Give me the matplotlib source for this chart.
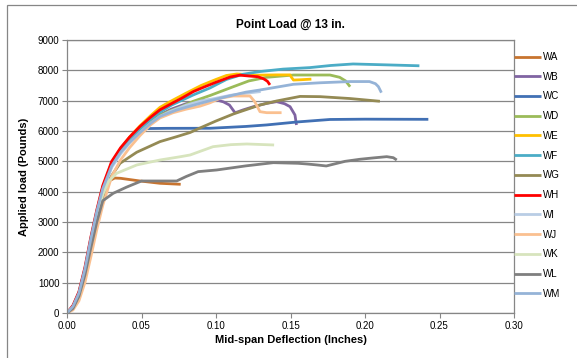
import matplotlib
matplotlib.use("Agg")
import matplotlib.pyplot as plt
from matplotlib.patches import Rectangle

plt.rcParams['font.family'] = ['Liberation Sans Narrow', 'Liberation Sans', 'DejaVu Sans']

names = ["WA", "WB", "WC", "WD", "WE", "WF", "WG", "WH", "WI", "WJ", "WK", "WL", "WM"]
colors = ["#C8742F", "#8064A2", "#4170B4", "#9BBB59", "#FFC000", "#4BACC6", "#948A54",
          "#FF0000", "#B9CDE5", "#FAC090", "#D7E4BD", "#7F7F7F", "#95B3D7"]

WA_x = [0, 0.004, 0.008, 0.012, 0.016, 0.020, 0.024, 0.028, 0.032, 0.036, 0.049, 0.0624, 0.0763]
WA_y = [0, 180, 600, 1350, 2300, 3200, 3950, 4350, 4450, 4440, 4352, 4276, 4243]

WB_x = [0, 0.004, 0.008, 0.012, 0.016, 0.020, 0.024, 0.030, 0.036, 0.042, 0.049, 0.056, 0.0624,
        0.07, 0.08, 0.09, 0.1005, 0.105, 0.109, 0.1128, 0.118, 0.125, 0.134, 0.1407, 0.146,
        0.1497, 0.153, 0.154]
WB_y = [0, 190, 620, 1400, 2350, 3250, 4050, 4870, 5300, 5650, 5990, 6290, 6530,
        6720, 6900, 7010, 7022, 6960, 6857, 6600, 6692, 6800, 6912, 6967, 6900,
        6802, 6528, 6198]

WC_x = [0, 0.004, 0.008, 0.012, 0.016, 0.020, 0.024, 0.030, 0.036, 0.042, 0.048, 0.053,
        0.0669, 0.096, 0.12, 0.134, 0.155, 0.1765, 0.2, 0.2425]
WC_y = [0, 200, 640, 1420, 2400, 3300, 4100, 4920, 5380, 5720, 6000, 6080,
        6088, 6090, 6150, 6200, 6300, 6380, 6390, 6385]

WD_x = [0, 0.004, 0.008, 0.012, 0.016, 0.020, 0.024, 0.030, 0.036, 0.042, 0.049, 0.056, 0.0624,
        0.07, 0.0758, 0.0848, 0.096, 0.1116, 0.122, 0.134, 0.152, 0.1765, 0.183, 0.187, 0.19]
WD_y = [0, 200, 620, 1380, 2350, 3250, 4050, 4850, 5300, 5650, 5980, 6280, 6520,
        6680, 6780, 6980, 7170, 7460, 7650, 7770, 7846, 7846, 7770, 7650, 7460]

WE_x = [0, 0.004, 0.008, 0.012, 0.016, 0.020, 0.024, 0.030, 0.036, 0.042, 0.049, 0.056, 0.0624,
        0.07, 0.08, 0.09, 0.1, 0.107, 0.114, 0.12, 0.127, 0.14, 0.1497, 0.1505, 0.152, 0.157, 0.164]
WE_y = [0, 200, 650, 1400, 2400, 3300, 4100, 4950, 5420, 5800, 6170, 6500, 6780,
        6990, 7250, 7500, 7700, 7830, 7880, 7860, 7840, 7850, 7850, 7780, 7680, 7690, 7710]

WF_x = [0, 0.004, 0.008, 0.012, 0.016, 0.020, 0.024, 0.030, 0.036, 0.042, 0.049, 0.056, 0.0624,
        0.07, 0.0848, 0.096, 0.107, 0.118, 0.1295, 0.145, 0.163, 0.177, 0.192, 0.2146, 0.2365]
WF_y = [0, 230, 680, 1450, 2450, 3350, 4150, 4950, 5400, 5750, 6080, 6380, 6620,
        6850, 7190, 7420, 7700, 7870, 7960, 8040, 8090, 8160, 8210, 8180, 8150]

WG_x = [0, 0.004, 0.008, 0.012, 0.016, 0.020, 0.024, 0.0289, 0.0356, 0.0468, 0.0535, 0.0624,
        0.0736, 0.0826, 0.0893, 0.1, 0.1116, 0.1295, 0.1407, 0.1564, 0.17, 0.19, 0.21]
WG_y = [0, 150, 500, 1150, 2050, 2950, 3750, 4450, 4935, 5300, 5450, 5650,
        5813, 5950, 6100, 6330, 6560, 6857, 6990, 7140, 7132, 7070, 6980]

WH_x = [0, 0.004, 0.008, 0.012, 0.016, 0.020, 0.024, 0.030, 0.036, 0.042, 0.049, 0.056, 0.0624,
        0.07, 0.0769, 0.0848, 0.092, 0.0996, 0.1095, 0.116, 0.1228, 0.128, 0.132, 0.1345, 0.1362]
WH_y = [0, 250, 700, 1500, 2500, 3400, 4200, 5000, 5450, 5800, 6150, 6450, 6700,
        6900, 7080, 7300, 7450, 7600, 7780, 7840, 7810, 7790, 7720, 7640, 7520]

WI_x = [0, 0.004, 0.008, 0.012, 0.016, 0.020, 0.024, 0.030, 0.036, 0.042, 0.049, 0.056, 0.0624,
        0.069, 0.08, 0.09, 0.098, 0.11, 0.123, 0.13]
WI_y = [0, 180, 600, 1350, 2300, 3200, 4000, 4800, 5250, 5600, 5950, 6250, 6480,
        6640, 6850, 6990, 7060, 7180, 7260, 7300]

WJ_x = [0, 0.004, 0.008, 0.012, 0.016, 0.020, 0.024, 0.030, 0.036, 0.042, 0.049, 0.056, 0.0624,
        0.071, 0.08, 0.0893, 0.096, 0.1027, 0.1116, 0.1228, 0.126, 0.1295, 0.134, 0.144]
WJ_y = [0, 100, 400, 1000, 1850, 2750, 3550, 4500, 5050, 5450, 5850, 6200, 6430,
        6600, 6720, 6820, 6930, 7078, 7154, 7154, 6967, 6637, 6604, 6604]

WK_x = [0, 0.004, 0.008, 0.012, 0.016, 0.020, 0.024, 0.028, 0.0333, 0.0468, 0.0624, 0.0758,
        0.0826, 0.098, 0.11, 0.1206, 0.139]
WK_y = [0, 170, 560, 1300, 2250, 3150, 3900, 4350, 4605, 4880, 5044, 5150,
        5209, 5483, 5550, 5572, 5539]

WL_x = [0, 0.004, 0.008, 0.012, 0.016, 0.020, 0.024, 0.031, 0.04, 0.05, 0.0736, 0.08, 0.088,
        0.1005, 0.12, 0.1385, 0.155, 0.161, 0.168, 0.174, 0.18, 0.1866, 0.1966, 0.205, 0.2146,
        0.219, 0.2213]
WL_y = [0, 150, 550, 1250, 2150, 3000, 3700, 3946, 4150, 4352, 4352, 4500, 4660,
        4715, 4850, 4956, 4935, 4913, 4880, 4847, 4920, 5000, 5068, 5110, 5154,
        5120, 5044]

WM_x = [0, 0.004, 0.008, 0.012, 0.016, 0.020, 0.024, 0.030, 0.036, 0.042, 0.049, 0.056, 0.0624,
        0.0736, 0.0848, 0.096, 0.107, 0.12, 0.1295, 0.152, 0.17, 0.19, 0.203, 0.207, 0.209, 0.211]
WM_y = [0, 220, 660, 1450, 2450, 3350, 4100, 4850, 5300, 5630, 5950, 6250, 6480,
        6692, 6850, 7000, 7132, 7280, 7352, 7540, 7590, 7630, 7630, 7560, 7462, 7264]

series_x = [WA_x, WB_x, WC_x, WD_x, WE_x, WF_x, WG_x, WH_x, WI_x, WJ_x, WK_x, WL_x, WM_x]
series_y = [WA_y, WB_y, WC_y, WD_y, WE_y, WF_y, WG_y, WH_y, WI_y, WJ_y, WK_y, WL_y, WM_y]

x_ticks = [0.00, 0.05, 0.10, 0.15, 0.20, 0.25, 0.30]
y_ticks = list(range(0, 9001, 1000))

W, H = 577, 358
fig = plt.figure(figsize=(W / 100, H / 100), dpi=100)
ax = fig.add_axes([67 / W, 1 - 313 / H, (514 - 67) / W, (313 - 40) / H])

grid_c = "#868686"
for n, c, xs, ys in zip(names, colors, series_x, series_y):
    ax.plot(xs, ys, color=c, lw=2.0, label=n, solid_capstyle='butt')

ax.set_xlim(0, 0.30)
ax.set_ylim(0, 9000)
ax.set_xticks(x_ticks)
ax.set_xticklabels([f"{v:.2f}" for v in x_ticks])
ax.set_yticks(y_ticks)
ax.yaxis.grid(True, color=grid_c, lw=0.9)
ax.set_axisbelow(True)
for s in ax.spines.values():
    s.set_color(grid_c)
    s.set_linewidth(0.9)
ax.tick_params(axis='both', direction='out', length=3.5, width=0.8, color=grid_c,
               labelsize=7, labelcolor='#000000', pad=2)

ax.set_title("Point Load @ 13 in.", fontsize=8.5, fontweight='bold', pad=9)
ax.set_xlabel("Mid-span Deflection (Inches)", fontsize=8, fontweight='bold', labelpad=3)
ax.set_ylabel("Applied load (Pounds)", fontsize=8, fontweight='bold', labelpad=6)

leg = ax.legend(loc='upper left', bbox_to_anchor=(1.0, 1 - 12 / 273), frameon=False,
                fontsize=7, handlelength=2.8, handletextpad=0.15, labelspacing=1.0,
                borderaxespad=0, borderpad=0)

fig.patches.append(Rectangle((7 / W, -0.1), 1.2, 1.1 - 5 / H, transform=fig.transFigure,
                             fill=False, edgecolor=grid_c, lw=0.9))

fig.savefig("out.png", dpi=100)
